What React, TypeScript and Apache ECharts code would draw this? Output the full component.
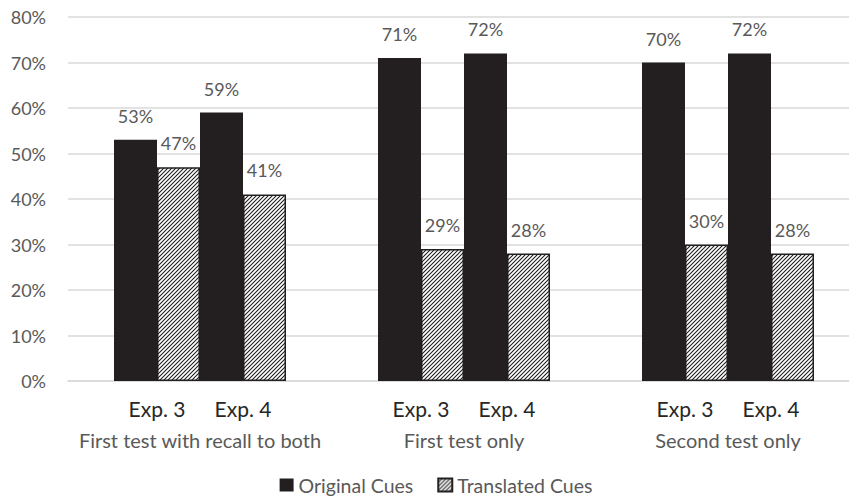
import React, { useEffect, useRef } from "react";
import * as echarts from "echarts";

const groups = ["First test with recall to both", "First test only", "Second test only"];
const expLabels = ["Exp. 3", "Exp. 4"];
const seriesNames = ["Original Cues", "Translated Cues"];
const originalExp3 = [53, 71, 70];
const translatedExp3 = [47, 29, 30];
const originalExp4 = [59, 72, 72];
const translatedExp4 = [41, 28, 28];
const yMax = 80;
const yInterval = 10;

const BLACK = "#231f20";

function makeHatch(): HTMLCanvasElement {
  const c = document.createElement("canvas");
  const s = 4;
  c.width = s;
  c.height = s;
  const ctx = c.getContext("2d")!;
  ctx.fillStyle = "#ffffff";
  ctx.fillRect(0, 0, s, s);
  ctx.strokeStyle = "#1a1a1a";
  ctx.lineWidth = 1.05;
  ctx.beginPath();
  ctx.moveTo(-1, s + 1);
  ctx.lineTo(s + 1, -1);
  ctx.moveTo(-1, 1);
  ctx.lineTo(1, -1);
  ctx.moveTo(s - 1, s + 1);
  ctx.lineTo(s + 1, s - 1);
  ctx.stroke();
  return c;
}

export default function App() {
  const ref = useRef<HTMLDivElement>(null);
  useEffect(() => {
    if (!ref.current) return;
    const chart = echarts.init(ref.current, null, { renderer: "svg" });
    const hatch = { image: makeHatch(), repeat: "repeat" } as any;
    const labelCfg = {
      show: true,
      position: "top",
      distance: 15,
      formatter: "{c}%",
      fontSize: 18,
      color: "#595959",
      fontFamily: "Lato",
    };
    const solidStyle = { color: BLACK };
    const hatchStyle = { color: hatch, borderColor: BLACK, borderWidth: 1.5 };
    const mk = (name: string, data: number[], style: any) => ({
      type: "bar",
      name,
      data,
      barWidth: 43,
      barGap: "0%",
      itemStyle: style,
      label: labelCfg,
    });
    chart.setOption({
      animation: false,
      textStyle: { fontFamily: "Lato" },
      grid: { left: 68, top: 17, width: 792, height: 364, containLabel: false },
      legend: {
        data: seriesNames,
        top: 474,
        left: "center",
        padding: 0,
        icon: "rect",
        itemWidth: 14,
        itemHeight: 13,
        itemGap: 24,
        textStyle: { fontSize: 19.5, lineHeight: 22, color: "#595959", fontFamily: "Lato" },
      },
      xAxis: {
        type: "category",
        data: groups,
        axisLine: { lineStyle: { color: "#d9d9d9", width: 1.5 } },
        axisTick: { show: false },
        axisLabel: {
          interval: 0,
          margin: 11,
          formatter: (v: string) => `{e|${expLabels[0]}}{e|${expLabels[1]}}\n{g|${v}}`,
          rich: {
            e: { width: 86, align: "center", fontSize: 21, color: "#262626", lineHeight: 32, fontFamily: "Lato" },
            g: { fontSize: 20, color: "#595959", lineHeight: 32, fontFamily: "Lato" },
          },
        },
      },
      yAxis: {
        type: "value",
        min: 0,
        max: yMax,
        interval: yInterval,
        axisLine: { show: false },
        axisTick: { show: false },
        axisLabel: { formatter: "{value}%", fontSize: 18, color: "#595959", margin: 22, fontFamily: "Lato" },
        splitLine: { lineStyle: { color: "#d9d9d9", width: 1.5 } },
      },
      series: [
        mk(seriesNames[0], originalExp3, solidStyle),
        mk(seriesNames[1], translatedExp3, hatchStyle),
        mk(seriesNames[0], originalExp4, solidStyle),
        mk(seriesNames[1], translatedExp4, hatchStyle),
      ],
    });
    return () => chart.dispose();
  }, []);
  return (
    <div style={{ position: "absolute", left: 0, top: 0, width: 849, height: 499, overflow: "hidden", background: "#fff" }}>
      <div ref={ref} style={{ width: 872, height: 499 }} />
    </div>
  );
}
